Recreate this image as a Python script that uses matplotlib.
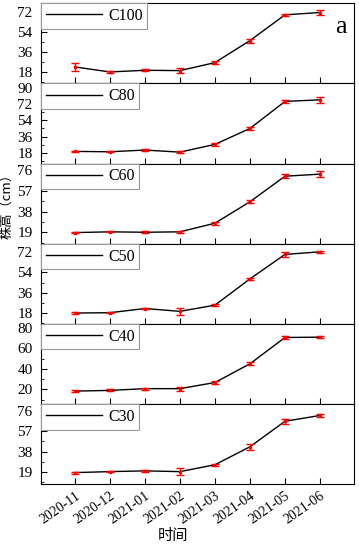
import numpy as np
import matplotlib
matplotlib.use("Agg")
import matplotlib.pyplot as plt
from matplotlib.ticker import AutoMinorLocator

plt.rcParams['font.family'] = ['Liberation Serif', 'Noto Sans CJK SC']

months = ['2020-11', '2020-12', '2021-01', '2021-02', '2021-03', '2021-04', '2021-05', '2021-06']
labels = ['C100', 'C80', 'C60', 'C50', 'C40', 'C30']

c100 = [22.8, 18.3, 19.8, 19.5, 26.7, 46.5, 69.6, 71.7]
c100_err = [3.6, 0.8, 1.0, 2.0, 1.0, 1.8, 1.2, 2.0]
c80 = [19.5, 19.1, 21.0, 18.7, 27.3, 45.0, 75.0, 76.8]
c80_err = [0.8, 0.6, 1.0, 0.8, 1.5, 2.0, 1.5, 3.5]
c60 = [18.7, 19.4, 19.0, 19.4, 27.3, 47.0, 70.4, 72.3]
c60_err = [0.6, 0.6, 0.8, 1.0, 1.2, 1.5, 1.8, 3.0]
c50 = [18.0, 18.3, 22.0, 19.5, 25.0, 48.3, 70.0, 72.3]
c50_err = [0.6, 0.6, 0.8, 3.0, 1.0, 1.2, 2.0, 1.0]
c40 = [18.3, 19.0, 20.7, 20.7, 26.7, 45.0, 70.7, 71.0]
c40_err = [0.6, 1.0, 1.0, 2.0, 1.2, 1.5, 1.5, 1.0]
c30 = [18.4, 19.3, 20.0, 19.3, 25.7, 42.5, 66.3, 71.7]
c30_err = [1.0, 0.8, 0.8, 3.0, 0.8, 3.0, 2.5, 1.0]

series = [c100, c80, c60, c50, c40, c30]
errors = [c100_err, c80_err, c60_err, c50_err, c40_err, c30_err]
yticks = [[18, 36, 54, 72], [18, 36, 54, 72, 90], [19, 38, 57, 76],
          [18, 36, 54, 72], [20, 40, 60, 80], [19, 38, 57, 76]]
ylims = [(8, 80), (6, 95), (8.5, 82), (8.4, 79.5), (5.7, 84), (7.6, 82.4)]

fig, axes = plt.subplots(6, 1, figsize=(3.59, 5.44), dpi=100, sharex=True)
fig.subplots_adjust(left=0.114, right=0.986, top=0.994, bottom=0.11, hspace=0)

x = np.arange(len(months))
for i, ax in enumerate(axes):
    ax.plot(x, series[i], color='black', lw=1.0, label=labels[i], zorder=2)
    ax.errorbar(x, series[i], yerr=errors[i], fmt='s', ms=2, mfc='red', mec='red',
                ecolor='red', elinewidth=1.0, capsize=3, capthick=1.0, zorder=3)
    ax.set_xlim(-0.97, 7.97)
    ax.set_ylim(*ylims[i])
    ax.set_yticks(yticks[i])
    ax.yaxis.set_minor_locator(AutoMinorLocator(2))
    ax.tick_params(axis='both', direction='in', length=4)
    ax.tick_params(axis='y', labelsize=11, pad=6)
    ax.tick_params(axis='y', which='minor', direction='in', length=2)
    for s in ax.spines.values():
        s.set_linewidth(0.8)
    leg = ax.legend(loc='upper left', fontsize=11.5, handlelength=3.5,
                    borderaxespad=0.0, borderpad=0.3, fancybox=False,
                    framealpha=1, handletextpad=0.4)
    leg.get_frame().set_edgecolor('#999999')
    leg.get_frame().set_linewidth(0.8)

axes[0].text(0.978, 0.71, 'a', transform=axes[0].transAxes, fontsize=19,
             ha='right', va='center')

axes[-1].set_xticks(x)
axes[-1].set_xticklabels(months, rotation=35, ha='right', rotation_mode='anchor', fontsize=10)
fig.text(0.482, 0.015, '时间', fontsize=11, family=['Noto Sans CJK SC'],
         ha='center', va='center')
fig.text(0.018, 0.627, '株高（cm）', rotation=90, fontsize=9.5, family=['Noto Sans CJK SC'],
         ha='center', va='center')

fig.savefig('out.png', dpi=100)
